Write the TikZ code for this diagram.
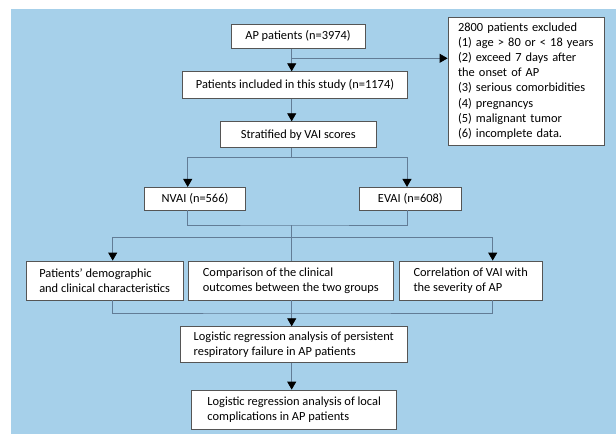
\documentclass[tikz,border=0pt]{standalone}
\usepackage{fontspec}
\setmainfont{Carlito}
\usetikzlibrary{arrows.meta}
\definecolor{skyblue}{RGB}{166,208,234}
\definecolor{linegray}{RGB}{98,124,150}
\definecolor{boxgray}{RGB}{85,85,85}

\tikzset{
    flowbox/.style={draw=boxgray, fill=white, line width=0.8pt, inner xsep=4pt, inner ysep=0pt},
    listbox/.style={flowbox, align=left},
    conn/.style={draw=linegray, line width=0.8pt},
    arr/.style={conn, -{Triangle[width=9pt,length=8pt,color=black]}}
}

\begin{document}
\begin{tikzpicture}[x=1pt, y=-1pt, font=\fontsize{12.4}{15.2}\selectfont]

    \useasboundingbox (0,0) rectangle (616,434);
    \fill[skyblue] (11,9) rectangle (616,434); % blue panel behind the chart

    % Top of the chart
    \node[flowbox, minimum width=134pt, minimum height=24pt] (ap) at (298,36.3) {AP patients (n=3974)};
    \node[flowbox, minimum width=224.6pt, minimum height=26.6pt] (incl) at (295,85) {Patients included in this study (n=1174)};
    \node[flowbox, minimum width=155.3pt, minimum height=26pt] (strat) at (298.3,134.7) {Stratified by VAI scores};
    \node[listbox, text width=136pt, inner xsep=10pt, minimum height=128pt] (excl) at (526,81)
        {2800 patients excluded\\(1) age > 80 or < 18 years\\(2) exceed 7 days after\\the onset of AP\\(3) serious comorbidities\\(4) pregnancys\\(5) malignant tumor\\(6) incomplete data.};

    % The two groups
    \node[flowbox, minimum width=101.4pt, minimum height=22.7pt] (nvai) at (195,198.7) {NVAI (n=566)};
    \node[flowbox, minimum width=101.4pt, minimum height=22.7pt] (evai) at (410.3,198.7) {EVAI (n=608)};

    % Three analyses
    \node[listbox, minimum width=157.3pt, minimum height=39pt] (demo) at (104.7,280.5) {Patients’ demographic\\and clinical characteristics};
    \node[listbox, minimum width=204.7pt, minimum height=39pt] (outc) at (290.8,280.5) {Comparison of the clinical\\outcomes between the two groups};
    \node[listbox, minimum width=142.7pt, minimum height=39pt] (corr) at (470.7,280.5) {Correlation of VAI with\\the severity of AP};

    % Regression boxes
    \node[listbox, minimum width=226.3pt, minimum height=35.6pt] (resp) at (293.8,344.5) {Logistic regression analysis of persistent\\respiratory failure in AP patients};
    \node[listbox, minimum width=205pt, minimum height=39pt] (local) at (294.2,409.5) {Logistic regression analysis of local\\complications in AP patients};

    % Helper points for the connectors
    \coordinate (tk) at (291.7,0);    % main vertical trunk
    \coordinate (ex) at (291.7,58.3); % branch to the excluded box
    \coordinate (s1l) at (187.7,157);
    \coordinate (s1r) at (407,157);
    \coordinate (m1) at (291.7,225);
    \coordinate (s2l) at (112.7,237);
    \coordinate (s2r) at (492.7,237);
    \coordinate (m2) at (291.7,313);

    % Connectors
    \draw[arr] (ap.south -| tk) -- (incl.north -| tk);
    \draw[arr] (ex) -- (ex -| excl.west);
    \draw[arr] (incl.south -| tk) -- (strat.north -| tk);
    \draw[conn] (strat.south -| tk) -- (s1l -| tk);
    \draw[arr] (s1l -| tk) -| (nvai.north -| s1l);
    \draw[arr] (s1r -| tk) -| (evai.north -| s1r);
    \draw[conn] (nvai.south -| s1l) |- (m1) -| (evai.south -| s1r);
    \draw[conn] (m1) -- (outc.north -| tk);
    \draw[arr] (s2l -| tk) -| (demo.north -| s2l);
    \draw[arr] (s2r -| tk) -| (corr.north -| s2r);
    \draw[conn] (demo.south -| s2l) |- (m2) -| (corr.south -| s2r);
    \draw[arr] (outc.south -| tk) -- (resp.north -| tk);
    \draw[arr] (resp.south -| tk) -- (local.north -| tk);

\end{tikzpicture}
\end{document}
